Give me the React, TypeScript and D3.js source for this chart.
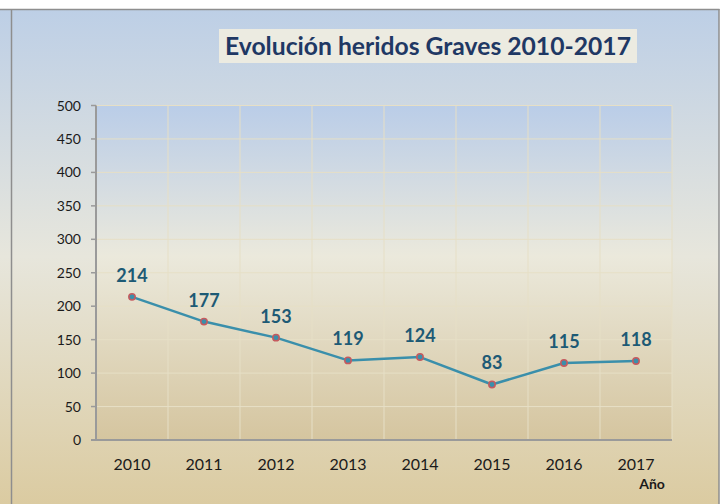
import React from "react";
import * as d3 from "d3";

const years = ["2010", "2011", "2012", "2013", "2014", "2015", "2016", "2017"];
const values = [214, 177, 153, 119, 124, 83, 115, 118];
const yTicks = [0, 50, 100, 150, 200, 250, 300, 350, 400, 450, 500];
const title = "Evolución heridos Graves 2010-2017";
const xAxisTitle = "Año";

const W = 723;
const H = 504;
const FONT = "Lato, 'Open Sans', 'DejaVu Sans', sans-serif";

export default function App() {
  const plot = { left: 96, right: 672, top: 105.5, bottom: 440 };
  const x = d3.scaleBand<string>().domain(years).range([plot.left, plot.right]).padding(0);
  const y = d3.scaleLinear().domain([0, 500]).range([plot.bottom, plot.top]);
  const cx = (d: string) => (x(d) as number) + x.bandwidth() / 2;
  const line = d3
    .line<number>()
    .x((_, i) => cx(years[i]))
    .y((v) => y(v));

  return (
    <div style={{ position: "absolute", left: 0, top: 0 }}>
      <svg width={W} height={H} style={{ display: "block" }}>
        <defs>
          <linearGradient id="bg" x1="0" y1="0" x2="0" y2="1">
            <stop offset="0" stopColor="#bdcfe6" />
            <stop offset="0.5" stopColor="#e7e6dc" />
            <stop offset="1" stopColor="#dbcba1" />
          </linearGradient>
          <linearGradient id="pg" x1="0" y1="0" x2="0" y2="1">
            <stop offset="0" stopColor="#bacde8" />
            <stop offset="0.45" stopColor="#ebe9dc" />
            <stop offset="1" stopColor="#d5c59f" />
          </linearGradient>
        </defs>
        <rect x={0} y={0} width={W} height={H} fill="#ffffff" />
        <rect x={0} y={9} width={719} height={H - 9} fill="url(#bg)" />
        <line x1={0} x2={719.5} y1={9.5} y2={9.5} stroke="#8e8e8e" strokeWidth={1.5} />
        <line x1={11.5} x2={11.5} y1={9} y2={H} stroke="#8e8e8e" strokeWidth={1.5} />
        <line x1={719} x2={719} y1={9} y2={H} stroke="#8e8e8e" strokeWidth={1.5} />

        {/* title */}
        <rect x={219} y={29} width={418} height={34} fill="#ecebe1" />
        <text
          x={428}
          y={55}
          textAnchor="middle"
          fontFamily={FONT}
          fontWeight="bold"
          fontSize={24}
          textLength={406}
          lengthAdjust="spacingAndGlyphs"
          fill="#1f3864"
        >
          {title}
        </text>

        {/* plot area */}
        <rect
          x={plot.left}
          y={plot.top}
          width={plot.right - plot.left}
          height={plot.bottom - plot.top}
          fill="url(#pg)"
        />
        {yTicks.map((t) => (
          <line
            key={"h" + t}
            x1={plot.left}
            x2={plot.right}
            y1={y(t)}
            y2={y(t)}
            stroke="#e6dfc6"
            strokeWidth={1}
          />
        ))}
        {years.map((yr) => (
          <line
            key={"v" + yr}
            x1={(x(yr) as number) + x.bandwidth()}
            x2={(x(yr) as number) + x.bandwidth()}
            y1={plot.top}
            y2={plot.bottom}
            stroke="#e6dfc6"
            strokeWidth={1}
          />
        ))}

        {/* axes */}
        <line x1={plot.left} x2={plot.left} y1={plot.top} y2={plot.bottom} stroke="#9a9a9a" strokeWidth={2} />
        <line x1={plot.left - 5} x2={plot.right} y1={plot.bottom} y2={plot.bottom} stroke="#9a9a9a" strokeWidth={2} />
        {yTicks.map((t) => (
          <g key={"t" + t}>
            <line x1={plot.left - 5} x2={plot.left} y1={y(t)} y2={y(t)} stroke="#9a9a9a" strokeWidth={1.5} />
            <text
              x={81}
              y={y(t) + 5}
              textAnchor="end"
              fontFamily={FONT}
              fontSize={14}
              fill="#1a1a1a"
            >
              {t}
            </text>
          </g>
        ))}
        {years.map((yr) => (
          <text
            key={"x" + yr}
            x={cx(yr)}
            y={470}
            textAnchor="middle"
            fontFamily={FONT}
            fontSize={16}
            fill="#1a1a1a"
          >
            {yr}
          </text>
        ))}
        <text
          x={652}
          y={489}
          textAnchor="middle"
          fontFamily={FONT}
          fontWeight="bold"
          fontSize={14}
          fill="#1a1a1a"
        >
          {xAxisTitle}
        </text>

        {/* series */}
        <path d={line(values) || ""} fill="none" stroke="#3a8fab" strokeWidth={2.5} strokeLinejoin="round" />
        {values.map((v, i) => (
          <circle
            key={"c" + i}
            cx={cx(years[i])}
            cy={y(v)}
            r={3.2}
            fill="#3a8fab"
            stroke="#c65a5e"
            strokeWidth={1.5}
          />
        ))}
        {values.map((v, i) => (
          <text
            key={"l" + i}
            x={cx(years[i])}
            y={y(v) - 15}
            textAnchor="middle"
            fontFamily={FONT}
            fontWeight="bold"
            fontSize={18}
            fill="#1d5a75"
          >
            {v}
          </text>
        ))}
      </svg>
    </div>
  );
}
